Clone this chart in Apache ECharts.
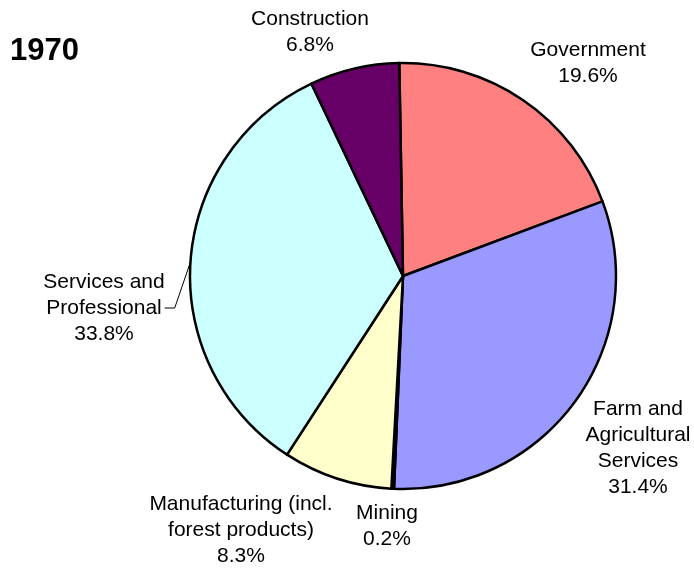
<!DOCTYPE html>
<html>
<head>
<meta charset="utf-8">
<script src="https://cdn.jsdelivr.net/npm/echarts@6/dist/echarts.min.js"></script>
<style>
  html, body { margin: 0; padding: 0; background: #fff; }
  #chart { width: 694px; height: 569px; }
</style>
</head>
<body>
<div id="chart"></div>
<script>
// Employment share by sector, 1970 (clockwise from 12 o'clock)
const sectors = [
  'Government',
  'Farm and\nAgricultural\nServices',
  'Mining',
  'Manufacturing (incl.\nforest products)',
  'Services and\nProfessional',
  'Construction'
];
const shares = [19.6, 31.4, 0.2, 8.3, 33.8, 6.8];
const sliceColors = ['#FF8080', '#9999FF', '#993366', '#FFFFCC', '#CCFFFF', '#660066'];
const yearTitle = '1970';

// label anchor (centre of the text block) for each slice
const labelAnchors = [
  [588, 63],
  [638, 448],
  [387, 526],
  [241, 530],
  [104, 308],
  [310, 32]
];

const chart = echarts.init(document.getElementById('chart'), null, { renderer: 'canvas' });

chart.setOption({
  animation: false,
  backgroundColor: '#ffffff',
  title: {
    text: yearTitle,
    left: 5,
    top: 31,
    textStyle: { fontFamily: 'Liberation Sans, Arial', fontSize: 31, fontWeight: 'bold', color: '#000' }
  },
  series: [{
    type: 'pie',
    center: [403, 276],
    radius: [0, 213],
    startAngle: 91,
    clockwise: true,
    minAngle: 0,
    avoidLabelOverlap: false,
    data: sectors.map((name, i) => ({
      name: name,
      value: shares[i],
      itemStyle: { color: sliceColors[i] },
      labelLine: { show: i === 4 }
    })),
    itemStyle: { borderColor: '#000', borderWidth: 2.5 },
    label: {
      show: true,
      position: 'outside',
      formatter: p => p.name + '\n' + p.value.toFixed(1) + '%',
      fontFamily: 'Liberation Sans, Arial',
      fontSize: 21,
      lineHeight: 26,
      color: '#000',
      align: 'center'
    },
    labelLine: {
      show: false,
      length: 8,
      length2: 10,
      lineStyle: { color: '#000', width: 1 }
    },
    labelLayout: params => ({
      x: labelAnchors[params.dataIndex][0],
      y: labelAnchors[params.dataIndex][1],
      align: 'center',
      verticalAlign: 'middle'
    }),
    emphasis: { disabled: true }
  }]
});
</script>
</body>
</html>
